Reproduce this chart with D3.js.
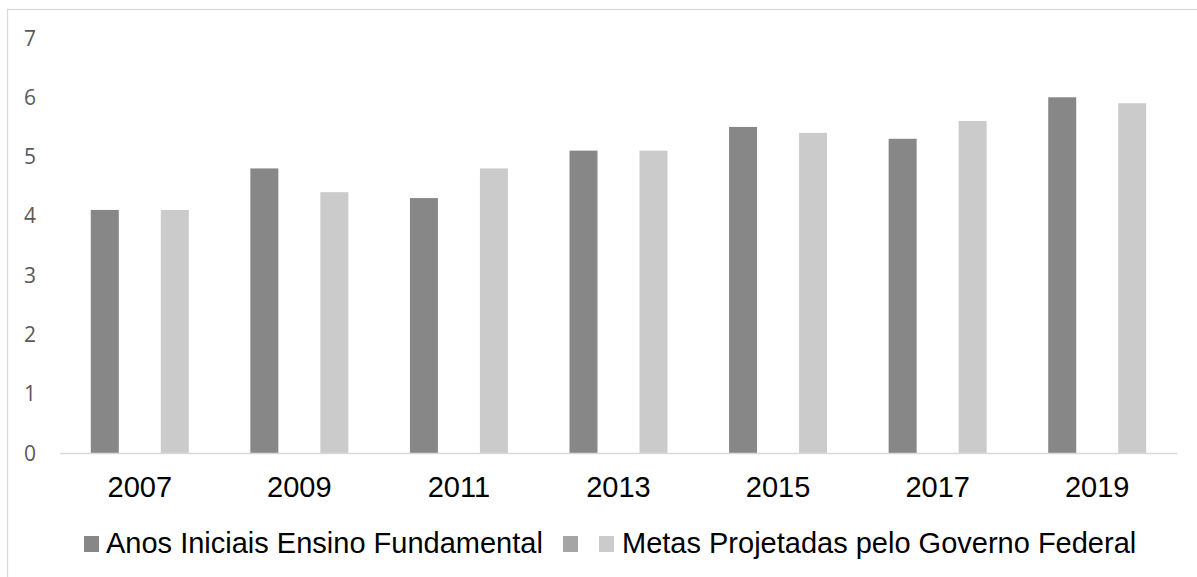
<!DOCTYPE html>
<html><head><meta charset="utf-8">
<script src="https://cdn.jsdelivr.net/npm/d3@7"></script>
<style>html,body{margin:0;padding:0;background:#fff;overflow:hidden}</style>
</head><body>
<script>
const years = ["2007","2009","2011","2013","2015","2017","2019"];
const anosIniciais = [4.1, 4.8, 4.3, 5.1, 5.5, 5.3, 6.0];
const metas = [4.1, 4.4, 4.8, 5.1, 5.4, 5.6, 5.9];
const yTicks = [0,1,2,3,4,5,6,7];
const seriesNames = ["Anos Iniciais Ensino Fundamental", "", "Metas Projetadas pelo Governo Federal"];
const seriesColors = ["#878787", "#a5a5a5", "#cbcbcb"];

(function(){
const W = 1197, H = 577;
const svg = d3.select("body").append("svg").attr("width", W).attr("height", H);

svg.append("rect").attr("x", 7.5).attr("y", 9.5).attr("width", W + 10).attr("height", H + 10)
  .attr("fill", "none").attr("stroke", "#d9d9d9").attr("stroke-width", 1.3);

const mLeft = 60, mRight = 1177, mTop = 38, mBottom = 453;
const x = d3.scaleBand().domain(years).range([mLeft, mRight]).padding(0);
const y = d3.scaleLinear().domain([0, 7]).range([mBottom, mTop]);
const barW = 28, off = 35;

svg.append("g").selectAll("text").data(yTicks).join("text")
  .attr("x", 36).attr("y", d => y(d)).attr("dy", "0.36em")
  .attr("text-anchor", "end")
  .attr("font-family", "'Open Sans', sans-serif").attr("font-size", 21)
  .attr("fill", "#595959").text(d => d);

const data = years.map((yr, i) => ({yr, a: anosIniciais[i], m: metas[i]}));

svg.append("g").selectAll("rect").data(data).join("rect")
  .attr("x", d => x(d.yr) + x.bandwidth()/2 - off - barW/2)
  .attr("y", d => y(d.a)).attr("width", barW).attr("height", d => y(0) - y(d.a))
  .attr("fill", seriesColors[0]);
svg.append("g").selectAll("rect").data(data).join("rect")
  .attr("x", d => x(d.yr) + x.bandwidth()/2 + off - barW/2)
  .attr("y", d => y(d.m)).attr("width", barW).attr("height", d => y(0) - y(d.m))
  .attr("fill", seriesColors[2]);

svg.append("line").attr("x1", mLeft).attr("x2", mRight).attr("y1", mBottom + 0.5).attr("y2", mBottom + 0.5)
  .attr("stroke", "#d9d9d9").attr("stroke-width", 1.5);

svg.append("g").selectAll("text").data(years).join("text")
  .attr("x", d => x(d) + x.bandwidth()/2).attr("y", 497)
  .attr("text-anchor", "middle")
  .attr("font-family", "'Liberation Sans', Arial, sans-serif").attr("font-size", 29)
  .attr("fill", "#000").text(d => d);

const legend = [
  {sx: 84, tx: 106, i: 0},
  {sx: 563, tx: null, i: 1},
  {sx: 599, tx: 622, i: 2}
];
const lg = svg.append("g");
legend.forEach(l => {
  lg.append("rect").attr("x", l.sx).attr("y", 536).attr("width", 15).attr("height", 16)
    .attr("fill", seriesColors[l.i]);
  if (l.tx !== null) {
    lg.append("text").attr("x", l.tx).attr("y", 553)
      .attr("font-family", "'Liberation Sans', Arial, sans-serif").attr("font-size", 29)
      .attr("fill", "#000").text(seriesNames[l.i]);
  }
});
})();
</script>
</body></html>
